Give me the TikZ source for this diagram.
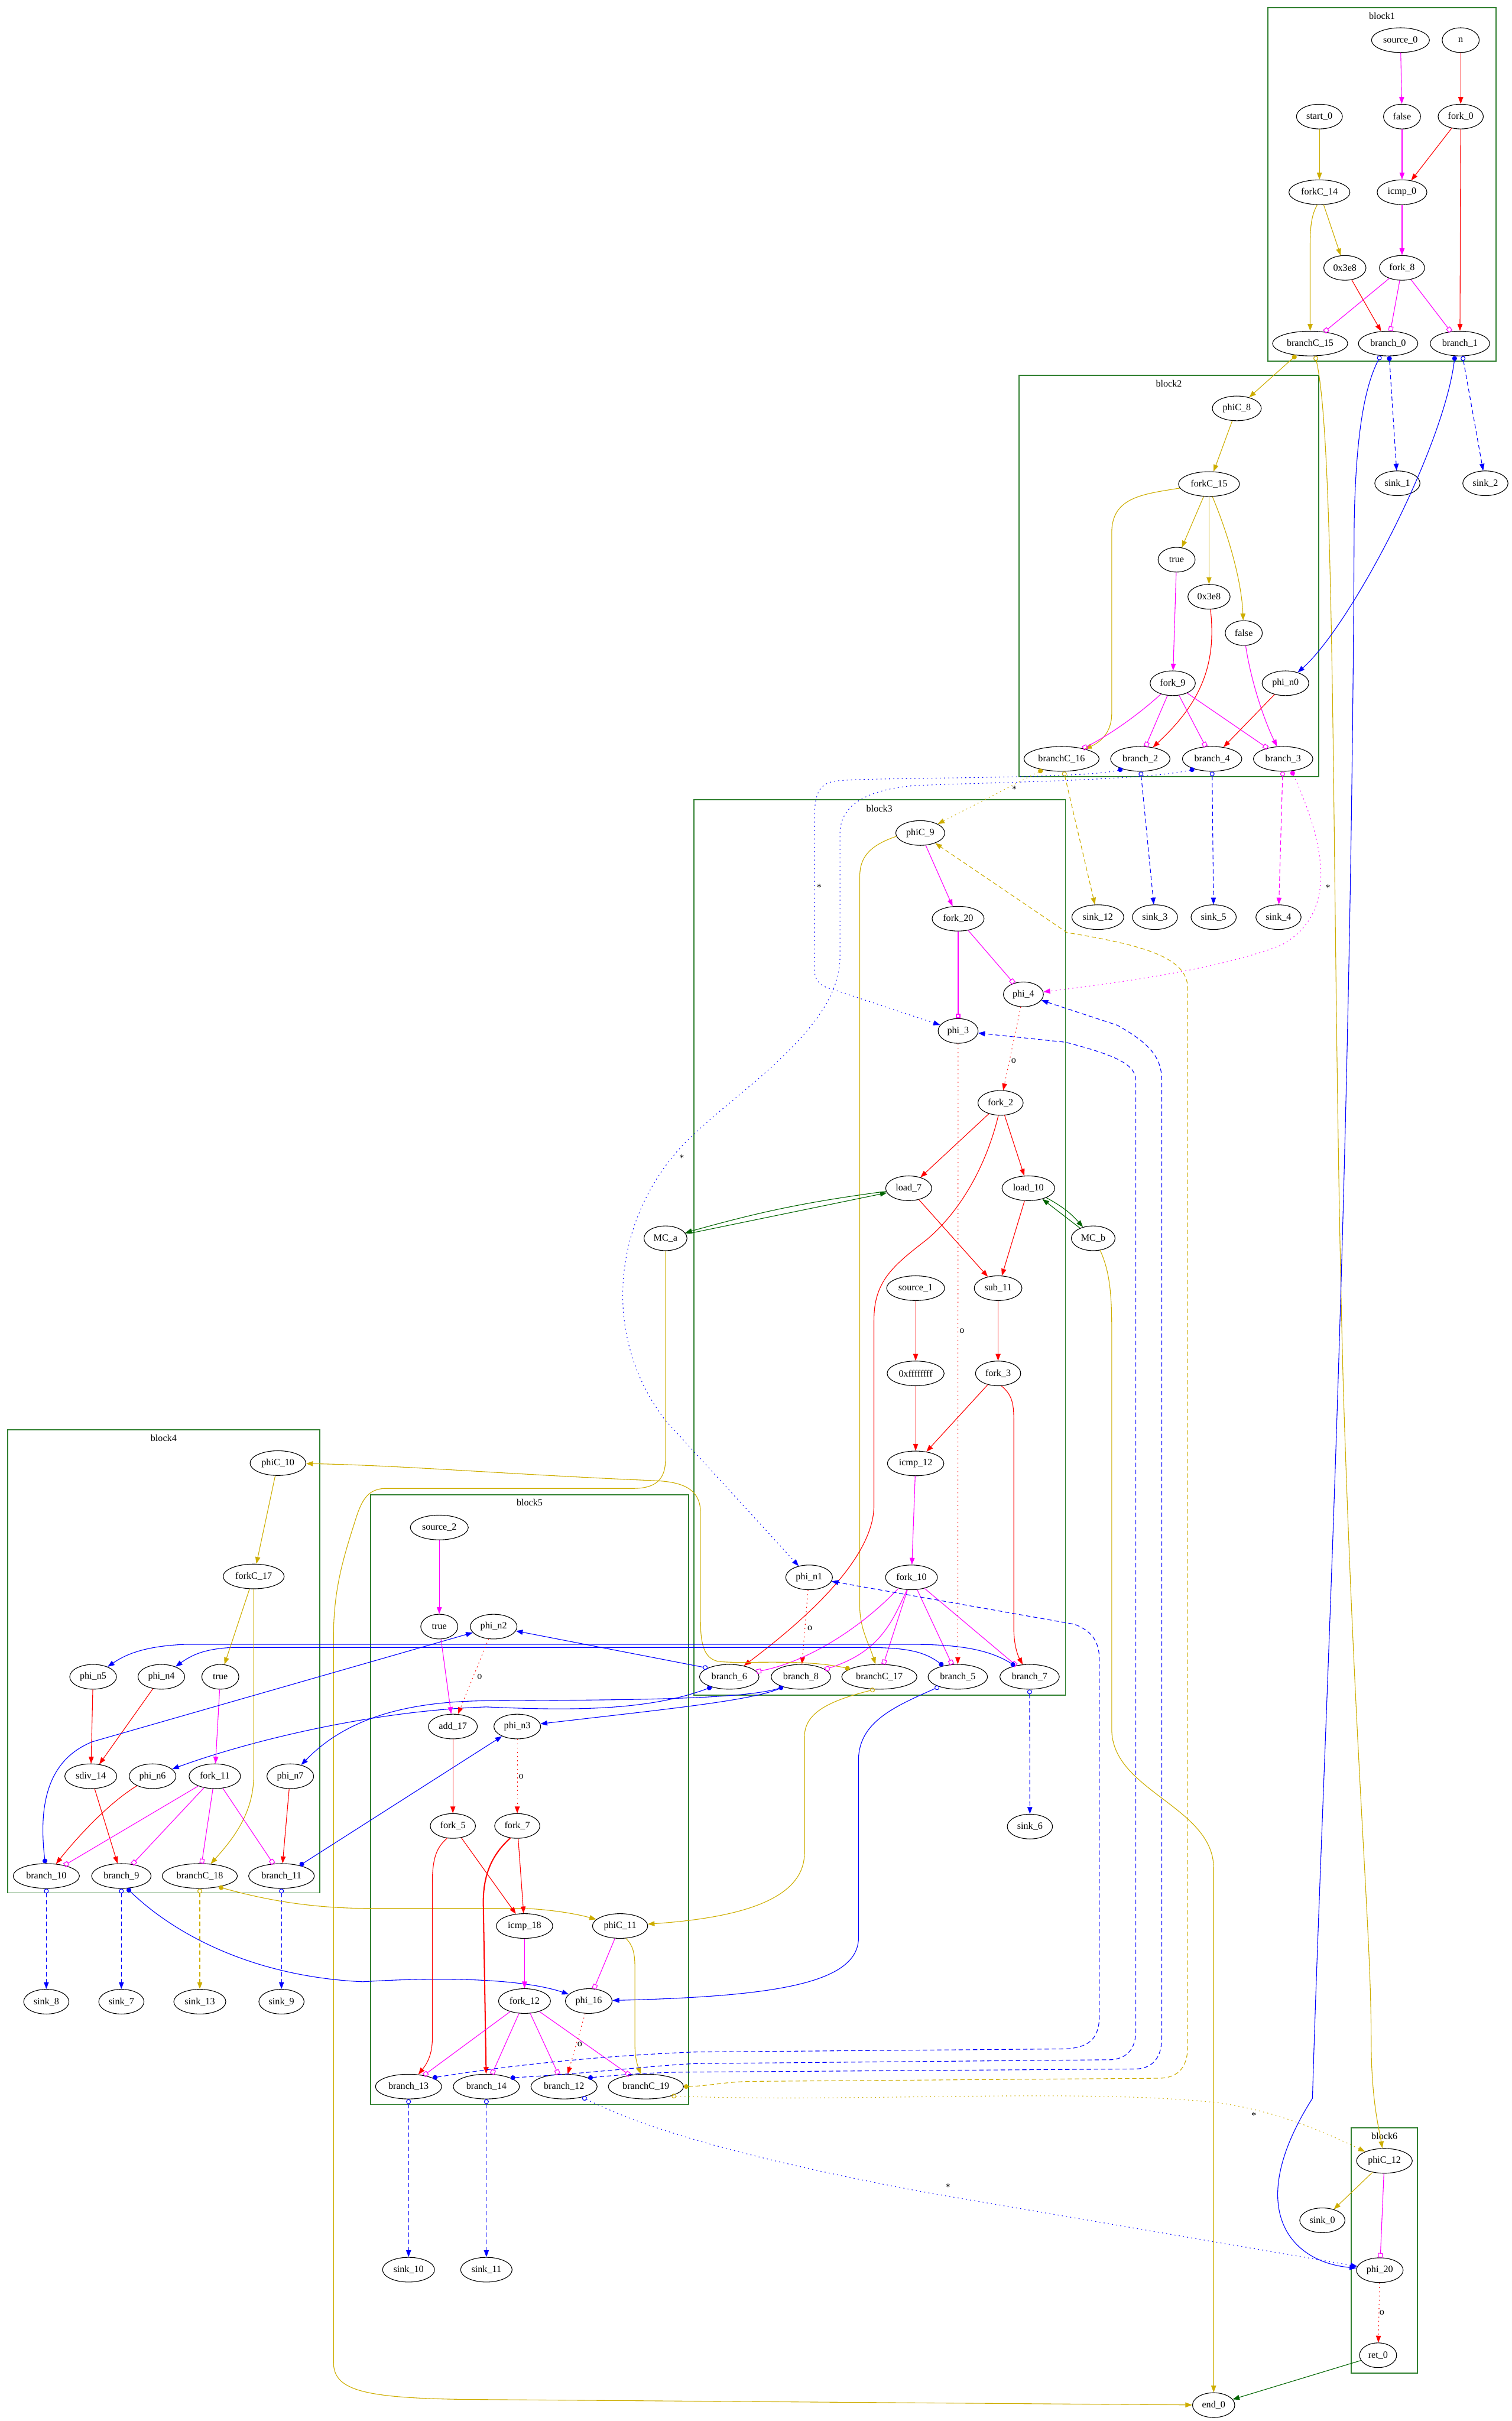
\documentclass[tikz,border=0pt]{standalone}
\usepackage{fontspec}
\setmainfont{Liberation Serif}
\usetikzlibrary{shapes.geometric,arrows.meta}
\definecolor{datared}{HTML}{FF0000}
\definecolor{condmag}{HTML}{FF00FF}
\definecolor{ctrlgold}{HTML}{CDAD00}
\definecolor{xferblue}{HTML}{0000FF}
\definecolor{memgreen}{HTML}{006400}
\definecolor{blockgreen}{HTML}{2F7F2F}
\newcommand{\DfgFont}{\fontsize{8.8pt}{10pt}\selectfont}
\tikzset{
  obox/.tip={Square[open,length=4.2pt,width=4.2pt]},
  dottail/.tip={Circle[length=4.4pt]},
  odottail/.tip={Circle[open,length=4.4pt]},
  dfgnode/.style={
    draw, ellipse, line width=0.6pt,
    minimum width=1.2cm, minimum height=0.8cm,
    inner xsep=3pt, inner ysep=1pt, font=\DfgFont
  },
  blockbox/.style={draw=blockgreen, line width=0.9pt},
  blocklabel/.style={font=\DfgFont, inner sep=0pt},
  edgelabel/.style={font=\DfgFont, inner sep=0pt},
  data/.style={draw=datared, line width=0.6pt},
  cond/.style={draw=condmag, line width=0.6pt},
  ctrl/.style={draw=ctrlgold, line width=0.6pt},
  xfer/.style={draw=xferblue, line width=0.6pt},
  mem/.style={draw=memgreen, line width=0.6pt},
  gvdashed/.style={dash pattern=on 4pt off 2.6pt},
  gvdotted/.style={dash pattern=on 0.9pt off 3pt}
}
\begin{document}
\begin{tikzpicture}[x=0.05cm, y=-0.05cm, >={Triangle[length=6.3pt,width=4.6pt]}]
\useasboundingbox (0,0) rectangle (979,1568);
% clusters
\draw[blockbox] (821,5) rectangle (969,234);
\node[blocklabel] (lbl_block1) at (895,10.5) {block1};
\draw[blockbox] (660,243) rectangle (854,503);
\node[blocklabel] (lbl_block2) at (757,248.5) {block2};
\draw[blockbox] (449.5,518) rectangle (690,1098);
\node[blocklabel] (lbl_block3) at (569.5,523.5) {block3};
\draw[blockbox] (5,926) rectangle (207,1226);
\node[blocklabel] (lbl_block4) at (106,931.5) {block4};
\draw[blockbox] (240,968) rectangle (446,1363);
\node[blocklabel] (lbl_block5) at (343,973) {block5};
\draw[blockbox] (875,1378) rectangle (918,1537);
\node[blocklabel] (lbl_block6) at (896.6,1383.5) {block6};

% block1
\node[dfgnode] (source_0) at (907,26) {source\_0};
\node[dfgnode] (n_arg) at (946,26) {n};
\node[dfgnode] (start_0) at (854.5,75.5) {start\_0};
\node[dfgnode] (false_b1) at (908,75.5) {false};
\node[dfgnode] (fork_0) at (946,75.5) {fork\_0};
\node[dfgnode] (forkC_14) at (854.5,124.5) {forkC\_14};
\node[dfgnode] (icmp_0) at (908,124.5) {icmp\_0};
\node[dfgnode] (cst_b1) at (871,173.5) {0x3e8};
\node[dfgnode] (fork_8) at (908,173.5) {fork\_8};
\node[dfgnode] (branchC_15) at (848.5,222.5) {branchC\_15};
\node[dfgnode] (branch_0) at (899,222.5) {branch\_0};
\node[dfgnode] (branch_1) at (945.5,222.5) {branch\_1};
\node[dfgnode] (sink_1) at (905,313) {sink\_1};
\node[dfgnode] (sink_2) at (962,313) {sink\_2};

% block2
\node[dfgnode] (phiC_8) at (801,264.5) {phiC\_8};
\node[dfgnode] (forkC_15) at (783,313.5) {forkC\_15};
\node[dfgnode] (true_b2) at (762,362.5) {true};
\node[dfgnode] (cst_b2) at (783,386.5) {0x3e8};
\node[dfgnode] (false_b2) at (805.5,410) {false};
\node[dfgnode] (fork_9) at (759.5,442.5) {fork\_9};
\node[dfgnode] (phi_n0) at (832.5,442.5) {phi\_n0};
\node[dfgnode] (branchC_16) at (687.5,491.5) {branchC\_16};
\node[dfgnode] (branch_2) at (738.5,491.5) {branch\_2};
\node[dfgnode] (branch_4) at (785,491.5) {branch\_4};
\node[dfgnode] (branch_3) at (831,491.5) {branch\_3};
\node[dfgnode] (sink_12) at (711,594) {sink\_12};
\node[dfgnode] (sink_3) at (748,594) {sink\_3};
\node[dfgnode] (sink_5) at (786,594) {sink\_5};
\node[dfgnode] (sink_4) at (828,594) {sink\_4};

% block3
\node[dfgnode] (phiC_9) at (596,539.5) {phiC\_9};
\node[dfgnode] (fork_20) at (620.5,595) {fork\_20};
\node[dfgnode] (phi_4) at (662.8,644) {phi\_4};
\node[dfgnode] (phi_3) at (620.5,667.7) {phi\_3};
\node[dfgnode] (fork_2) at (648,714.3) {fork\_2};
\node[dfgnode] (load_7) at (588.5,769.6) {load\_7};
\node[dfgnode] (load_10) at (666,769.6) {load\_10};
\node[dfgnode] (MC_a) at (431,802) {MC\_a};
\node[dfgnode] (MC_b) at (708,802) {MC\_b};
\node[dfgnode] (source_1) at (593,834.3) {source\_1};
\node[dfgnode] (sub_11) at (646.4,834.3) {sub\_11};
\node[dfgnode] (const_ff) at (593,889.5) {0xffffffff};
\node[dfgnode] (fork_3) at (646.4,889.5) {fork\_3};
\node[dfgnode] (icmp_12) at (593,947.8) {icmp\_12};
\node[dfgnode] (phi_n1) at (524,1021.6) {phi\_n1};
\node[dfgnode] (fork_10) at (590.3,1021.6) {fork\_10};
\node[dfgnode] (branch_6) at (472.3,1086) {branch\_6};
\node[dfgnode] (branch_8) at (518.7,1086) {branch\_8};
\node[dfgnode] (branchC_17) at (569.5,1086) {branchC\_17};
\node[dfgnode] (branch_5) at (620.3,1086) {branch\_5};
\node[dfgnode] (branch_7) at (666.8,1086) {branch\_7};
\node[dfgnode] (sink_6) at (667,1183) {sink\_6};

% block4
\node[dfgnode] (phiC_10) at (180,947.6) {phiC\_10};
\node[dfgnode] (forkC_17) at (164.3,1021) {forkC\_17};
\node[dfgnode] (phi_n5) at (60.3,1086) {phi\_n5};
\node[dfgnode] (phi_n4) at (104.5,1086) {phi\_n4};
\node[dfgnode] (true_b4) at (142.7,1086) {true};
\node[dfgnode] (sdiv_14) at (58.8,1150.4) {sdiv\_14};
\node[dfgnode] (phi_n6) at (98.8,1150.4) {phi\_n6};
\node[dfgnode] (fork_11) at (139.1,1150.4) {fork\_11};
\node[dfgnode] (phi_n7) at (188,1150.4) {phi\_n7};
\node[dfgnode] (branch_10) at (30,1215) {branch\_10};
\node[dfgnode] (branch_9) at (78.6,1215) {branch\_9};
\node[dfgnode] (branchC_18) at (129.4,1215) {branchC\_18};
\node[dfgnode] (branch_11) at (182.3,1215) {branch\_11};
\node[dfgnode] (sink_8) at (30,1296.4) {sink\_8};
\node[dfgnode] (sink_7) at (78.6,1296.4) {sink\_7};
\node[dfgnode] (sink_13) at (129.4,1296.4) {sink\_13};
\node[dfgnode] (sink_9) at (182.3,1296.4) {sink\_9};

% block5
\node[dfgnode] (source_2) at (284.5,989.3) {source\_2};
\node[dfgnode] (true_b5) at (284.5,1053.5) {true};
\node[dfgnode] (phi_n2) at (319.7,1053.5) {phi\_n2};
\node[dfgnode] (add_17) at (293.3,1118.2) {add\_17};
\node[dfgnode] (phi_n3) at (335,1118.2) {phi\_n3};
\node[dfgnode] (fork_5) at (293.3,1182.6) {fork\_5};
\node[dfgnode] (fork_7) at (335,1182.6) {fork\_7};
\node[dfgnode] (icmp_18) at (339.7,1247.4) {icmp\_18};
\node[dfgnode] (phiC_11) at (401.6,1247.4) {phiC\_11};
\node[dfgnode] (fork_12) at (339.7,1296) {fork\_12};
\node[dfgnode] (phi_16) at (381.3,1296) {phi\_16};
\node[dfgnode] (branch_13) at (264.6,1351.4) {branch\_13};
\node[dfgnode] (branch_14) at (315,1351.4) {branch\_14};
\node[dfgnode] (branch_12) at (365.3,1351.4) {branch\_12};
\node[dfgnode] (branchC_19) at (418.3,1351.4) {branchC\_19};
\node[dfgnode] (sink_10) at (264.6,1470) {sink\_10};
\node[dfgnode] (sink_11) at (315,1470) {sink\_11};

% block6
\node[dfgnode] (phiC_12) at (896.6,1399.5) {phiC\_12};
\node[dfgnode] (sink_0) at (856.4,1438) {sink\_0};
\node[dfgnode] (phi_20) at (893.6,1470.3) {phi\_20};
\node[dfgnode] (ret_0) at (892.5,1525.4) {ret\_0};
\node[dfgnode] (end_0) at (786,1557.7) {end\_0};

% edges inside block1
\draw[cond,->] (source_0) -- (false_b1);
\draw[data,->] (n_arg) -- (fork_0);
\draw[ctrl,->] (start_0) -- (forkC_14);
\draw[cond,->] (false_b1) -- (icmp_0);
\draw[data,->] (fork_0) -- (icmp_0);
\draw[data,->] (fork_0) -- (branch_1);
\draw[ctrl,->] (forkC_14) -- (cst_b1);
\draw[ctrl,->] (forkC_14.-100) .. controls (849,140) and (848.5,148) .. (848.5,160) -- (branchC_15);
\draw[cond,->] (icmp_0) -- (fork_8);
\draw[data,->] (cst_b1) -- (branch_0);
\draw[cond,-obox] (fork_8) -- (branchC_15);
\draw[cond,-obox] (fork_8) -- (branch_0);
\draw[cond,-obox] (fork_8) -- (branch_1);
% out of block1
\draw[ctrl,dottail->] (branchC_15.-140) -- (phiC_8);
\draw[ctrl,odottail->] (branchC_15.-68) .. controls (866,290) and (862,600) .. (870,900) .. controls (878,1150) and (888,1250) .. (888,1320) .. controls (888,1360) and (893,1378) .. (phiC_12);
\draw[xfer,gvdashed,dottail->] (branch_0.-85) -- (sink_1);
\draw[xfer,odottail->] (branch_0.-122) .. controls (884,250) and (878,280) .. (877,340) .. controls (875,800) and (856,1150) .. (850,1359) .. controls (805,1430) and (835,1465) .. (phi_20);
\draw[xfer,gvdashed,odottail->] (branch_1.-78) -- (sink_2);
\draw[xfer,dottail->] (branch_1.-112) .. controls (935,290) and (875,405) .. (phi_n0);

% edges inside block2
\draw[ctrl,->] (phiC_8) -- (forkC_15);
\draw[ctrl,->] (forkC_15) -- (true_b2);
\draw[ctrl,->] (forkC_15) -- (cst_b2);
\draw[ctrl,->] (forkC_15.-75) .. controls (795,345) and (804,375) .. (false_b2);
\draw[ctrl,->] (forkC_15.-172) .. controls (740,320) and (720,322) .. (720,345) -- (720,462) .. controls (720,475) and (712,481) .. (branchC_16);
\draw[cond,->] (true_b2) -- (fork_9);
\draw[data,->] (cst_b2) .. controls (788,430) and (778,455) .. (branch_2);
\draw[cond,->] (false_b2) .. controls (810,440) and (818,465) .. (branch_3);
\draw[cond,-obox] (fork_9) .. controls (735,465) and (715,478) .. (branchC_16);
\draw[cond,-obox] (fork_9) -- (branch_2);
\draw[cond,-obox] (fork_9) -- (branch_4);
\draw[cond,-obox] (fork_9) -- (branch_3);
\draw[data,->] (phi_n0) -- (branch_4);
% out of block2
\draw[ctrl,gvdotted,dottail->] (branchC_16.-150) -- (phiC_9);
\node[edgelabel] (lbl_star_a) at (657,511) {*};
\draw[ctrl,gvdashed,odottail->] (branchC_16.-80) -- (sink_12);
\draw[xfer,gvdotted,dottail->] (branch_2.-150) .. controls (700,505) and (560,503) .. (540,506) .. controls (530,508) and (527.5,515) .. (527.5,530) -- (527.5,628) .. controls (527.5,636) and (532,639) .. (540,641) -- (phi_3);
\node[edgelabel] (lbl_star_b) at (530.5,574.5) {*};
\draw[xfer,gvdashed,odottail->] (branch_2.-88) -- (sink_3);
\draw[xfer,gvdotted,dottail->] (branch_4.-150) .. controls (740,506) and (620,507) .. (590,509) .. controls (560,512) and (544,522) .. (544,540) -- (544,620) .. controls (544,665) and (480,705) .. (449,735) .. controls (400,780) and (385,860) .. (431,920) -- (phi_n1);
\node[edgelabel] (lbl_star_c) at (441.5,750) {*};
\draw[xfer,gvdashed,odottail->] (branch_4.-90) -- (sink_5);
\draw[cond,gvdashed,odottail->] (branch_3.-92) -- (sink_4);
\draw[cond,gvdotted,dottail->] (branch_3.-55) .. controls (855,540) and (870,590) .. (830,612) .. controls (790,628) and (720,637) .. (phi_4);
\node[edgelabel] (lbl_star_d) at (860,575) {*};

% edges inside block3
\draw[cond,->] (phiC_9) -- (fork_20);
\draw[ctrl,->] (phiC_9.-172) .. controls (562,548) and (556.8,556) .. (556.8,568) -- (556.8,1040) .. controls (556.8,1055) and (563,1065) .. (branchC_17);
\draw[cond,-obox,line width=1.1pt] (fork_20) -- (phi_3);
\draw[cond,-obox] (fork_20) -- (phi_4);
\draw[data,gvdotted,->] (phi_4) -- (fork_2);
\node[edgelabel] (lbl_o_a) at (656.5,687) {o};
\draw[data,gvdotted,->] (phi_3) -- (branch_5);
\node[edgelabel] (lbl_o_b) at (623,862) {o};
\draw[data,->] (fork_2) -- (load_7);
\draw[data,->] (fork_2) -- (load_10);
\draw[data,->] (fork_2.-100) .. controls (640,750) and (625,782) .. (600,803) .. controls (578,820) and (566,830) .. (566,855) -- (566,975) .. controls (566,1010) and (520,1050) .. (branch_6);
\draw[data,->] (load_7) -- (sub_11);
\draw[data,->] (load_10) -- (sub_11);
\draw[mem,->] (MC_a) -- (load_7);
\draw[mem,->] (load_7) to[bend right=4] (MC_a);
\draw[mem,->] (MC_b) -- (load_10);
\draw[mem,->] (load_10) to[bend left=10] (MC_b);
\draw[data,->] (source_1) -- (const_ff);
\draw[data,->] (sub_11) -- (fork_3);
\draw[data,->] (const_ff) -- (icmp_12);
\draw[data,->] (fork_3) -- (icmp_12);
\draw[data,->] (fork_3.-75) .. controls (655,903) and (656.6,908) .. (656.6,920) -- (656.6,1055) .. controls (656.6,1065) and (659,1072) .. (branch_7);
\draw[cond,->] (icmp_12) -- (fork_10);
\draw[data,gvdotted,->] (phi_n1) -- (branch_8);
\node[edgelabel] (lbl_o_c) at (524.5,1054.5) {o};
\draw[cond,-obox] (fork_10.-140) .. controls (560,1052) and (525,1076) .. (branch_6);
\draw[cond,-obox] (fork_10.-110) .. controls (578,1050) and (570,1070) .. (branch_8);
\draw[cond,-obox] (fork_10) -- (branchC_17);
\draw[cond,-obox] (fork_10) -- (branch_5);
\draw[cond,-obox] (fork_10) -- (branch_7);
\draw[ctrl,->] (MC_a) -- (431,945) .. controls (431,958) and (425,964) .. (410,964) -- (250,964) .. controls (238,964) and (234,972) .. (230,985) .. controls (222,1010) and (216,1030) .. (216,1060) -- (216,1530) .. controls (216,1548) and (235,1553) .. (300,1554) -- (end_0);
\draw[ctrl,->] (MC_b.-60) .. controls (718,822) and (720,835) .. (720,860) -- (720,1120) .. controls (720,1160) and (786,1170) .. (786,1210) -- (end_0);
% out of block3
\draw[xfer,odottail->] (branch_6.158) -- (phi_n2);
\draw[xfer,dottail->] (branch_6.-150) .. controls (420,1108) and (370,1108) .. (315,1105.5) .. controls (240,1108) and (160,1128) .. (phi_n6);
\draw[xfer,dottail->] (branch_8.-150) .. controls (480,1101) and (400,1101) .. (315,1101.5) .. controls (265,1102) and (225,1112) .. (phi_n7);
\draw[xfer,->] (branch_8.-150) .. controls (490,1101) and (440,1106) .. (phi_n3);
\draw[ctrl,dottail->] (branchC_17.165) .. controls (520,1074) and (480,1078) .. (465,1076) .. controls (456,1074) and (453.7,1065) .. (453.7,1050) -- (453.7,980) .. controls (453.7,966) and (445,960) .. (425,959) .. controls (330,955) and (260,949) .. (phiC_10);
\draw[ctrl,odottail->] (branchC_17.-110) .. controls (535,1102) and (521,1110) .. (521,1125) -- (521,1200) .. controls (521,1230) and (480,1242) .. (phiC_11);
\draw[xfer,dottail->] (branch_7.143) .. controls (640,1068) and (620,1065) .. (590,1065) -- (120,1065) .. controls (95,1066) and (82,1071) .. (phi_n5);
\draw[xfer,dottail->] (branch_5.143) .. controls (598,1069) and (585,1067) .. (560,1067) -- (150,1067) .. controls (132,1068) and (124,1072) .. (phi_n4);
\draw[xfer,odottail->] (branch_5.-152) .. controls (580,1105) and (556,1115) .. (556,1140) -- (556,1255) .. controls (556,1285) and (500,1293) .. (phi_16);
\draw[xfer,gvdashed,odottail->] (branch_7.-90) -- (sink_6);

% edges inside block4
\draw[ctrl,->] (phiC_10) -- (forkC_17);
\draw[ctrl,->] (forkC_17) -- (true_b4);
\draw[ctrl,->] (forkC_17.-90) -- (164.3,1150) .. controls (164.3,1175) and (150,1192) .. (branchC_18);
\draw[data,->] (phi_n5) -- (sdiv_14);
\draw[data,->] (phi_n4) -- (sdiv_14);
\draw[cond,->] (true_b4) -- (fork_11);
\draw[data,->] (sdiv_14) -- (branch_9);
\draw[data,->] (phi_n6) .. controls (70,1168) and (50,1190) .. (branch_10);
\draw[cond,-obox] (fork_11) -- (branch_10);
\draw[cond,-obox] (fork_11) -- (branch_9);
\draw[cond,-obox] (fork_11) -- (branchC_18);
\draw[cond,-obox] (fork_11) -- (branch_11);
\draw[data,->] (phi_n7) -- (branch_11);
% out of block4
\draw[xfer,gvdashed,odottail->] (branch_10.-90) -- (sink_8);
\draw[xfer,gvdashed,odottail->] (branch_9.-90) -- (sink_7);
\draw[ctrl,gvdashed,odottail->] (branchC_18.-90) -- (sink_13);
\draw[xfer,gvdashed,odottail->] (branch_11.-90) -- (sink_9);
\draw[xfer,dottail->] (branch_10.95) .. controls (25,1170) and (30,1140) .. (60,1128) -- (phi_n2);
\draw[xfer,dottail->] (branch_9.-65) .. controls (110,1250) and (160,1280) .. (235,1283.5) .. controls (290,1280) and (340,1282) .. (phi_16);
\draw[ctrl,dottail->] (branchC_18.-30) .. controls (170,1230) and (200,1236) .. (240,1236) -- (340,1236) .. controls (360,1237) and (375,1240) .. (phiC_11);
\draw[xfer,dottail->] (branch_11.30) -- (phi_n3);

% edges inside block5
\draw[cond,->] (source_2) -- (true_b5);
\draw[cond,->] (true_b5) -- (add_17);
\draw[data,gvdotted,->] (phi_n2) -- (add_17);
\node[edgelabel] (lbl_o_d) at (310.6,1086) {o};
\draw[data,->] (add_17) -- (fork_5);
\draw[data,gvdotted,->] (phi_n3) -- (fork_7);
\node[edgelabel] (lbl_o_e) at (337.5,1150.5) {o};
\draw[data,->] (fork_5) -- (icmp_18);
\draw[data,->] (fork_7) -- (icmp_18);
\draw[data,->] (fork_5.-115) .. controls (282,1197) and (280,1205) .. (280,1220) -- (280,1320) .. controls (280,1330) and (277,1336) .. (branch_13);
\draw[data,->,line width=1.1pt] (fork_7.-120) .. controls (320,1200) and (313,1212) .. (313,1232) -- (branch_14);
\draw[cond,->] (icmp_18) -- (fork_12);
\draw[cond,-obox] (phiC_11) -- (phi_16);
\draw[ctrl,->] (phiC_11.-65) .. controls (410,1260) and (411.2,1265) .. (411.2,1275) -- (411.2,1325) .. controls (411.2,1333) and (413,1338) .. (branchC_19);
\draw[cond,-obox] (fork_12) -- (branch_13);
\draw[cond,-obox] (fork_12) -- (branch_14);
\draw[cond,-obox] (fork_12) -- (branch_12);
\draw[cond,-obox] (fork_12) -- (branchC_19);
\draw[data,gvdotted,->] (phi_16) -- (branch_12);
\node[edgelabel] (lbl_o_f) at (375.5,1324) {o};
% out of block5
\draw[xfer,gvdashed,odottail->] (branch_13.-90) -- (sink_10);
\draw[xfer,gvdashed,odottail->] (branch_14.-90) -- (sink_11);
\draw[xfer,gvdashed,dottail->] (branch_13.20) .. controls (340,1336) and (400,1331) .. (450,1329) -- (690,1327) .. controls (706,1326) and (712,1320) .. (712,1305) -- (712,1075) .. controls (712,1062) and (706,1056) .. (696,1052) -- (phi_n1);
\draw[xfer,gvdashed,dottail->] (branch_14.20) .. controls (380,1343) and (420,1338) .. (450,1336.5) -- (720,1334) .. controls (730,1333) and (735.6,1327) .. (735.6,1315) -- (735.6,700) .. controls (735.6,690) and (725,684) .. (690,675) -- (phi_3);
\draw[xfer,gvdashed,dottail->] (branch_12.20) .. controls (410,1343) and (430,1342) .. (450,1342) -- (735,1340) .. controls (746,1340) and (752.4,1333) .. (752.4,1320) -- (752.4,700) .. controls (752.4,685) and (745,676) .. (723.6,664) -- (phi_4);
\draw[ctrl,gvdashed,dottail->] (branchC_19.east) .. controls (460,1351) and (470,1348) .. (490,1348) -- (750,1346) .. controls (764,1346) and (769.2,1338) .. (769.2,1325) -- (769.2,640) .. controls (769.2,620) and (740,612) .. (691,604) -- (phiC_9);
\draw[ctrl,gvdotted,odottail->] (branchC_19.-20) .. controls (550,1362) and (700,1352) .. (790,1362) .. controls (830,1368) and (860,1382) .. (phiC_12);
\node[edgelabel] (lbl_star_e) at (812,1370) {*};
\draw[xfer,gvdotted,odottail->] (branch_12.-30) .. controls (430,1385) and (520,1405) .. (600,1420) -- (phi_20);
\node[edgelabel] (lbl_star_f) at (614,1416.5) {*};

% edges inside block6
\draw[ctrl,->] (phiC_12) -- (sink_0);
\draw[cond,-obox] (phiC_12) -- (phi_20);
\draw[data,gvdotted,->] (phi_20) -- (ret_0);
\node[edgelabel] (lbl_o_g) at (895,1498) {o};
\draw[mem,->] (ret_0) -- (end_0);
\end{tikzpicture}
\end{document}
